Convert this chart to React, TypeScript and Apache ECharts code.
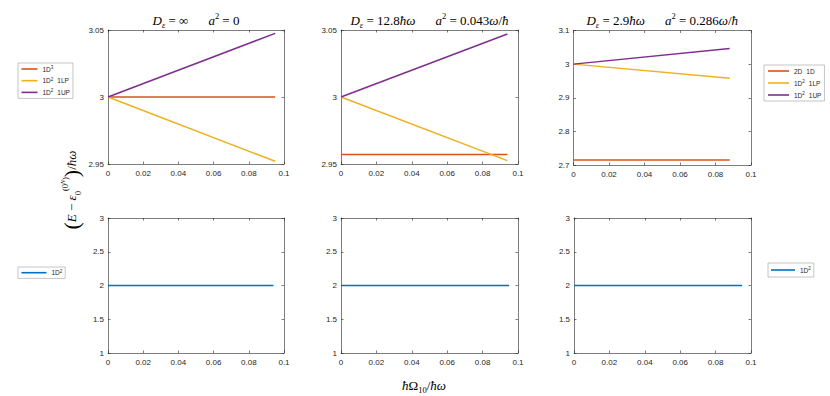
import React, { useEffect, useRef } from "react";
import * as echarts from "echarts";

// ---------- data ----------
const topX = [
  [0, 0.095],
  [0, 0.094],
  [0, 0.088],
];
const topOrange = [
  [3, 3],
  [2.957, 2.957],
  [2.715, 2.715],
];
const topLP = [
  [3, 2.952],
  [3, 2.9525],
  [3, 2.958],
];
const topUP = [
  [3, 3.0475],
  [3, 3.047],
  [3, 3.0464],
];
const orangeNames = ["1D³", "2D 1D", "2D 1D"];
const lpName = "1D² 1LP";
const upName = "1D² 1UP";

const bottomX = [
  [0, 0.094],
  [0, 0.095],
  [0, 0.095],
];
const bottomY = [
  [2, 2],
  [2, 2],
  [2, 2],
];
const bottomName = "1D²";

const xMin = 0;
const xMax = 0.1;
const xInterval = 0.02;
const yMins = [2.95, 2.95, 2.7, 1, 1, 1];
const yMaxs = [3.05, 3.05, 3.1, 3, 3, 3];
const yIntervals = [0.05, 0.05, 0.1, 0.5, 0.5, 0.5];

const titles = [
  "{i|D}{si|ε}{n| = ∞}{g| }{i|a}{p|2}{n| = 0}",
  "{i|D}{si|ε}{n| = 12.8}{i|ħω}{g| }{i|a}{p|2}{n| = 0.043}{i|ω}{n|/}{i|ħ}",
  "{i|D}{si|ε}{n| = 2.9}{i|ħω}{g| }{i|a}{p|2}{n| = 0.286}{i|ω}{n|/}{i|ħ}",
];
const yLabel = "{b|(}{i|E}{n| − }{i|ε}{s|0}{p|(0}{pp|N}{p|)}{b|)}{n|/}{i|ħω}";
const xLabel = "{i|ħ}{n|Ω}{s|10}{n|/}{i|ħω}";

// ---------- colours ----------
const C_ORANGE = "#D95319";
const C_YELLOW = "#EDB120";
const C_PURPLE = "#7E2F8E";
const C_BLUE = "#0072BD";
const AX = "#262626";

const grids = [
  { left: 108, top: 30, width: 176, height: 134 },
  { left: 341, top: 30, width: 177, height: 134 },
  { left: 573.5, top: 30.5, width: 177.5, height: 134.5 },
  { left: 108, top: 218, width: 176, height: 135 },
  { left: 341, top: 218, width: 177, height: 135 },
  { left: 574, top: 218, width: 177, height: 135 },
];

const serif = "Liberation Serif";
const rich: any = {
  n: { fontFamily: serif, fontSize: 13, lineHeight: 18, color: "#000" },
  i: { fontFamily: serif, fontSize: 13, lineHeight: 18, fontStyle: "italic", color: "#000" },
  s: { fontFamily: serif, fontSize: 8.5, lineHeight: 9, verticalAlign: "bottom", color: "#000" },
  si: { fontFamily: serif, fontSize: 8.5, lineHeight: 9, verticalAlign: "bottom", fontStyle: "italic", color: "#000" },
  p: { fontFamily: serif, fontSize: 8.5, lineHeight: 9, verticalAlign: "top", color: "#000" },
  pp: { fontFamily: serif, fontSize: 6, lineHeight: 6, verticalAlign: "top", fontStyle: "italic", color: "#000" },
  b: { fontFamily: serif, fontSize: 22, lineHeight: 22, color: "#000" },
  g: { fontFamily: serif, fontSize: 13, lineHeight: 18, width: 20 },
};

const fmt = (v: number) => String(parseFloat(Number(v).toFixed(4)));

function buildAxes() {
  const xAxis: any[] = [];
  const yAxis: any[] = [];
  const line = { show: true, onZero: false, lineStyle: { color: AX, width: 0.6 } };
  const tick = { show: true, inside: true, length: 2.5, lineStyle: { color: AX, width: 0.6 } };
  const label = { fontSize: 8, color: AX, fontFamily: "Liberation Sans", margin: 5, formatter: fmt };
  for (let i = 0; i < 6; i++) {
    const xBase = { type: "value", gridIndex: i, min: xMin, max: xMax, interval: xInterval, axisLine: line, axisTick: tick, splitLine: { show: false } };
    xAxis.push({ ...xBase, position: "bottom", axisLabel: label });
    xAxis.push({ ...xBase, position: "top", axisLabel: { show: false } });
    const yBase = { type: "value", gridIndex: i, min: yMins[i], max: yMaxs[i], interval: yIntervals[i], axisLine: line, axisTick: tick, splitLine: { show: false } };
    yAxis.push({ ...yBase, position: "left", axisLabel: { ...label, margin: 4 } });
    yAxis.push({ ...yBase, position: "right", axisLabel: { show: false } });
  }
  return { xAxis, yAxis };
}

function lineSeries(name: string, xs: number[], ys: number[], g: number, color: string, width = 1.5) {
  return {
    type: "line",
    name,
    xAxisIndex: 2 * g,
    yAxisIndex: 2 * g,
    data: xs.map((x, k) => [x, ys[k]]),
    symbol: "none",
    showSymbol: false,
    lineStyle: { color, width },
    itemStyle: { color },
    silent: true,
  };
}

function buildSeries() {
  const s: any[] = [];
  for (let i = 0; i < 3; i++) {
    s.push(lineSeries(orangeNames[i], topX[i], topOrange[i], i, C_ORANGE));
    s.push(lineSeries(lpName, topX[i], topLP[i], i, C_YELLOW));
    s.push(lineSeries(upName, topX[i], topUP[i], i, C_PURPLE));
  }
  for (let i = 0; i < 3; i++) {
    s.push(lineSeries(bottomName, bottomX[i], bottomY[i], 3 + i, C_BLUE, 1.6));
  }
  return s;
}

const legendFormatter = (name: string) =>
  name.replace("²", "{sup|2}").replace("³", "{sup|3}").replace(/(\S+)\s(\S+)/, "$1{sp| }$2");

const legendText = {
  fontSize: 6.5,
  lineHeight: 8,
  fontFamily: "Liberation Sans",
  color: AX,
  rich: {
    sup: { fontSize: 4.5, lineHeight: 8, verticalAlign: "top", fontFamily: "Liberation Sans", color: AX, padding: [0, 0, 3, 0] },
    sp: { fontSize: 6.5, width: 4 },
  },
};
const legendBase = {
  orient: "vertical",
  icon: "rect",
  itemHeight: 1.6,
  borderColor: "#a0a0a0",
  borderWidth: 0.6,
  backgroundColor: "#fff",
  selectedMode: false,
  textStyle: legendText,
  formatter: legendFormatter,
};

export default function App() {
  const ref = useRef<HTMLDivElement>(null);
  useEffect(() => {
    document.body.style.margin = "0";
    if (!ref.current) return;
    const chart = echarts.init(ref.current, undefined, { renderer: "svg" });
    const { xAxis, yAxis } = buildAxes();
    const graphic: any[] = [];
    const centers = [0, 1, 2].map((i) => grids[i].left + grids[i].width / 2);
    titles.forEach((t, i) => {
      graphic.push({
        type: "text",
        x: centers[i],
        y: 20,
        style: { text: t, rich, align: "center", verticalAlign: "middle", textAlign: "center", textVerticalAlign: "middle" },
      });
    });
    graphic.push({
      type: "text",
      x: 71,
      y: 190,
      rotation: Math.PI / 2,
      style: { text: yLabel, rich, align: "center", verticalAlign: "middle", textAlign: "center", textVerticalAlign: "middle" },
    });
    graphic.push({
      type: "text",
      x: 424,
      y: 385,
      style: { text: xLabel, rich, align: "center", verticalAlign: "middle", textAlign: "center", textVerticalAlign: "middle" },
    });

    chart.setOption({
      animation: false,
      backgroundColor: "#fff",
      grid: grids.map((g) => ({ ...g, containLabel: false })),
      xAxis,
      yAxis,
      series: buildSeries(),
      legend: [
        { ...legendBase, data: [orangeNames[0], lpName, upName], left: 18, top: 63, itemWidth: 16, itemGap: 3.7, padding: [2, 3, 2, 3.5] },
        { ...legendBase, data: [orangeNames[2], lpName, upName], left: 764, top: 65, itemWidth: 21, itemGap: 4, padding: [2, 3, 2, 4] },
        { ...legendBase, data: [bottomName], left: 18, top: 267, itemWidth: 25, padding: [1.7, 3, 1.7, 3.4] },
        { ...legendBase, data: [bottomName], left: 768, top: 263, itemWidth: 24, padding: [3, 3, 3, 3] },
      ],
      graphic,
    });
    return () => chart.dispose();
  }, []);
  return <div ref={ref} style={{ width: 830, height: 396 }} />;
}
